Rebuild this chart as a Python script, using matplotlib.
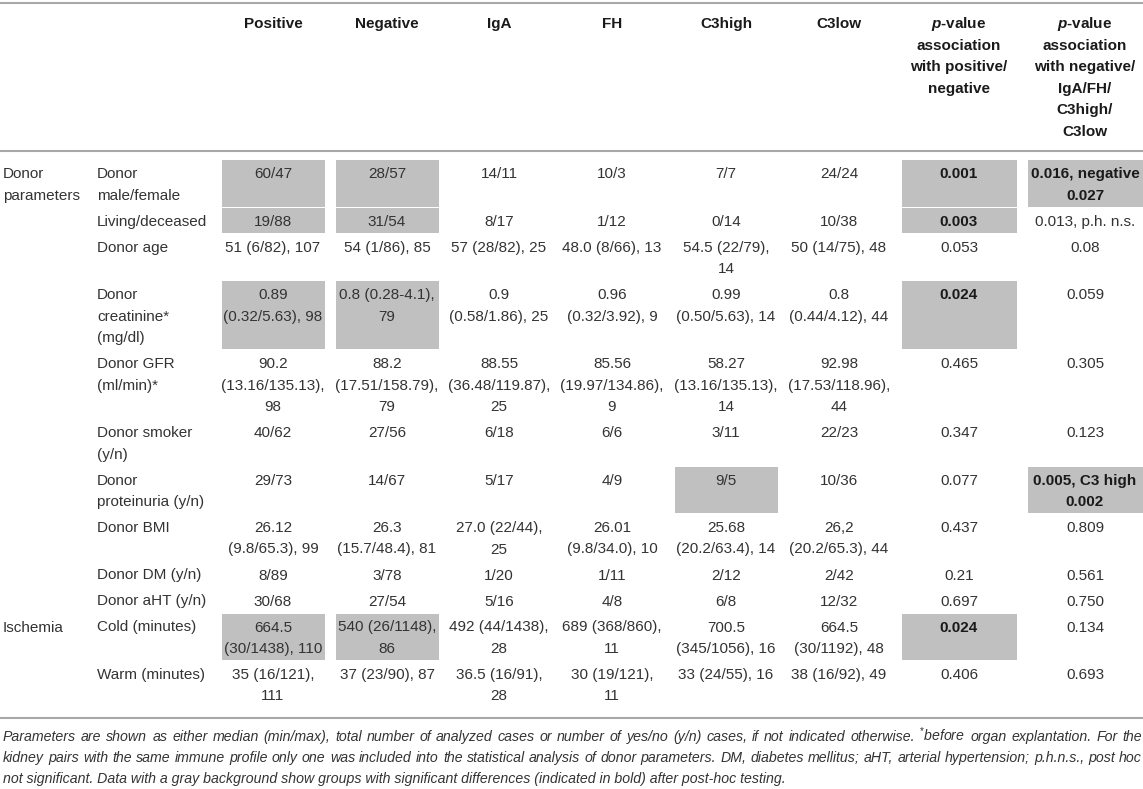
import matplotlib
matplotlib.use("Agg")
import matplotlib.pyplot as plt
from matplotlib.patches import Rectangle

plt.rcParams['font.family'] = ['Liberation Sans', 'DejaVu Sans']
plt.rcParams['mathtext.fontset'] = 'custom'
plt.rcParams['mathtext.rm'] = 'Liberation Sans'
plt.rcParams['mathtext.it'] = 'Liberation Sans:italic:bold'
plt.rcParams['mathtext.bf'] = 'Liberation Sans:bold'

# ---- table content ----
headers = ["Positive", "Negative", "IgA", "FH", "C3high", "C3low",
           "$p$-value\nassociation\nwith positive/\nnegative",
           "$p$-value\nassociation\nwith negative/\nIgA/FH/\nC3high/\nC3low"]

groups = {0: "Donor\nparameters", 10: "Ischemia"}

row_labels = ["Donor\nmale/female", "Living/deceased", "Donor age",
              "Donor\ncreatinine*\n(mg/dl)", "Donor GFR\n(ml/min)*",
              "Donor smoker\n(y/n)", "Donor\nproteinuria (y/n)", "Donor BMI",
              "Donor DM (y/n)", "Donor aHT (y/n)", "Cold (minutes)",
              "Warm (minutes)"]

positive = ["60/47", "19/88", "51 (6/82), 107", "0.89\n(0.32/5.63), 98",
            "90.2\n(13.16/135.13),\n98", "40/62", "29/73",
            "26.12\n(9.8/65.3), 99", "8/89", "30/68",
            "664.5\n(30/1438), 110", "35 (16/121),\n111"]
negative = ["28/57", "31/54", "54 (1/86), 85", "0.8 (0.28-4.1),\n79",
            "88.2\n(17.51/158.79),\n79", "27/56", "14/67",
            "26.3\n(15.7/48.4), 81", "3/78", "27/54",
            "540 (26/1148),\n86", "37 (23/90), 87"]
iga = ["14/11", "8/17", "57 (28/82), 25", "0.9\n(0.58/1.86), 25",
       "88.55\n(36.48/119.87),\n25", "6/18", "5/17", "27.0 (22/44),\n25",
       "1/20", "5/16", "492 (44/1438),\n28", "36.5 (16/91),\n28"]
fh = ["10/3", "1/12", "48.0 (8/66), 13", "0.96\n(0.32/3.92), 9",
      "85.56\n(19.97/134.86),\n9", "6/6", "4/9", "26.01\n(9.8/34.0), 10",
      "1/11", "4/8", "689 (368/860),\n11", "30 (19/121),\n11"]
c3high = ["7/7", "0/14", "54.5 (22/79),\n14", "0.99\n(0.50/5.63), 14",
          "58.27\n(13.16/135.13),\n14", "3/11", "9/5",
          "25.68\n(20.2/63.4), 14", "2/12", "6/8",
          "700.5\n(345/1056), 16", "33 (24/55), 16"]
c3low = ["24/24", "10/38", "50 (14/75), 48", "0.8\n(0.44/4.12), 44",
         "92.98\n(17.53/118.96),\n44", "22/23", "10/36",
         "26,2\n(20.2/65.3), 44", "2/42", "12/32",
         "664.5\n(30/1192), 48", "38 (16/92), 49"]
p_pos_neg = ["0.001", "0.003", "0.053", "0.024", "0.465", "0.347", "0.077",
             "0.437", "0.21", "0.697", "0.024", "0.406"]
p_groups = ["0.016, negative\n0.027", "0.013, p.h. n.s.", "0.08", "0.059",
            "0.305", "0.123", "0.005, C3 high\n0.002", "0.809", "0.561",
            "0.750", "0.134", "0.693"]

columns = [positive, negative, iga, fh, c3high, c3low, p_pos_neg, p_groups]

# (row, column) cells with gray background; p-value ones are bold
highlighted = [(0, 0), (1, 0), (3, 0), (10, 0),
               (0, 1), (1, 1), (3, 1), (10, 1),
               (6, 4),
               (0, 6), (1, 6), (3, 6), (10, 6),
               (0, 7), (6, 7)]

footnote = [
    "Parameters are shown as either median (min/max), total number of analyzed cases or number of yes/no (y/n) cases, if not indicated otherwise. $^{*}$before organ explantation. For the",
    "kidney pairs with the same immune profile only one was included into the statistical analysis of donor parameters. DM, diabetes mellitus; aHT, arterial hypertension; p.h.n.s., post hoc",
    "not significant. Data with a gray background show groups with significant differences (indicated in bold) after post-hoc testing.",
]

# ---- layout ----
W, H = 1143, 789
col_x = [273, 387, 499, 612, 726, 839, 959, 1085]
half_w = [51.5] * 6 + [57.5] * 2
LH = 21.5
ROW_GAP = 26
FS = 11
FS_NOTE = 10.2
TXT = "#333333"
BOLD = "#1a1a1a"
FILL = "#c0c0c0"
RULE = "#a8a8a8"

fig = plt.figure(figsize=(W / 100, H / 100), dpi=100)
ax = fig.add_axes([0, 0, 1, 1])
ax.set_xlim(0, W)
ax.set_ylim(H, 0)
ax.axis("off")


def put(x, y, s, ha="center", **kw):
    for k, line in enumerate(s.split("\n")):
        ax.text(x, y + k * LH + 5, line, ha=ha, va="baseline",
                fontsize=FS, **kw)


# rules
for yy in (3, 151, 718):
    ax.plot([0, W], [yy, yy], color=RULE, lw=1.5, solid_capstyle="butt")

# header
for x, h in zip(col_x, headers):
    put(x, 23, h, fontweight="bold", color=BOLD)

# row positions
nlines = []
for i in range(len(row_labels)):
    cells = [row_labels[i]] + [c[i] for c in columns]
    nlines.append(max(s.count("\n") + 1 for s in cells))
row_y = [173]
for n in nlines[:-1]:
    row_y.append(row_y[-1] + (n - 1) * LH + ROW_GAP)

# gray cells
for r, c in highlighted:
    top = row_y[r] - 13
    bot = row_y[r] + (nlines[r] - 1) * LH + 12
    ax.add_patch(Rectangle((col_x[c] - half_w[c], top), 2 * half_w[c],
                           bot - top, facecolor=FILL, edgecolor="none",
                           zorder=0))

# body
for i, y in enumerate(row_y):
    if i in groups:
        put(3, y, groups[i], ha="left", color=TXT)
    put(97, y, row_labels[i], ha="left", color=TXT)
    for c, col in enumerate(columns):
        bold = (i, c) in highlighted and c >= 6
        put(col_x[c], y, col[i],
            fontweight="bold" if bold else "normal",
            color=BOLD if bold else TXT)

# footnote, first lines justified
renderer = fig.canvas.get_renderer()
fy = [737, 758, 779]
for k, line in enumerate(footnote):
    if k == len(footnote) - 1:
        ax.text(3, fy[k] + 4, line, ha="left", va="baseline",
                fontsize=FS_NOTE, style="italic", color=TXT)
        continue
    words = line.split(" ")
    objs = [ax.text(0, fy[k] + 4, w, ha="left", va="baseline",
                    fontsize=FS_NOTE, style="italic", color=TXT)
            for w in words]
    widths = [o.get_window_extent(renderer=renderer).width for o in objs]
    gap = (W - 4 - sum(widths)) / (len(words) - 1)
    x = 3
    for o, wd in zip(objs, widths):
        o.set_x(x)
        x += wd + gap

fig.savefig("out.png", dpi=100)
